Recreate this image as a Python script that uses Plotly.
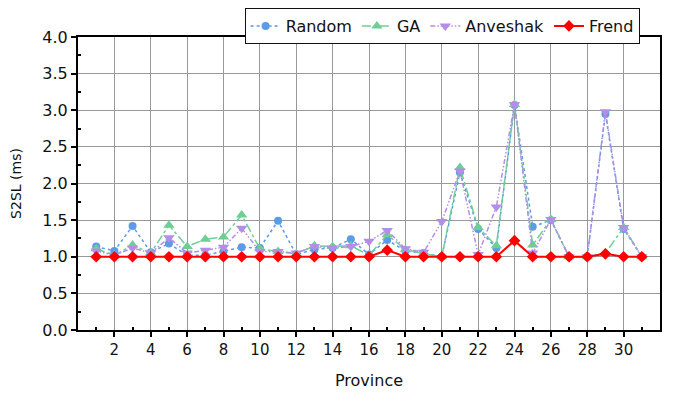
import plotly.graph_objects as go

provinces = list(range(1, 32))
random_vals = [1.14, 1.08, 1.42, 1.06, 1.18, 1.02, 1.02, 1.07, 1.13, 1.12,
               1.49, 1.03, 1.10, 1.12, 1.24, 1.03, 1.23, 1.08, 1.05, 1.00,
               2.15, 1.38, 1.12, 3.07, 1.41, 1.50, 1.00, 1.00, 2.95, 1.38, 1.00]
ga_vals = [1.11, 1.02, 1.16, 1.05, 1.43, 1.14, 1.24, 1.27, 1.57, 1.11,
           1.07, 1.04, 1.15, 1.14, 1.15, 1.02, 1.30, 1.10, 1.04, 1.00,
           2.22, 1.40, 1.15, 3.08, 1.16, 1.51, 1.00, 1.00, 1.05, 1.40, 1.00]
anveshak_vals = [1.08, 1.02, 1.12, 1.05, 1.26, 1.05, 1.09, 1.13, 1.39, 1.07,
                 1.07, 1.05, 1.14, 1.12, 1.14, 1.21, 1.36, 1.11, 1.06, 1.48,
                 2.17, 1.03, 1.68, 3.08, 1.05, 1.51, 1.00, 1.00, 2.98, 1.40, 1.00]
frend_vals = [1.0] * 16 + [1.09] + [1.0] * 6 + [1.22] + [1.0] * 4 + [1.04] + [1.0] * 2

x_ticks = list(range(2, 31, 2))
y_ticks = [0.0, 0.5, 1.0, 1.5, 2.0, 2.5, 3.0, 3.5, 4.0]

FONT = "DejaVu Sans"

fig = go.Figure()
fig.add_trace(go.Scatter(
    x=provinces, y=random_vals, name="Random", mode="lines+markers",
    line=dict(color="#5B9BE8", width=1.5, dash="dot"),
    marker=dict(symbol="circle", size=8, color="#5B9BE8")))
fig.add_trace(go.Scatter(
    x=provinces, y=ga_vals, name="GA", mode="lines+markers",
    line=dict(color="#6ECF95", width=1.5, dash="dashdot"),
    marker=dict(symbol="triangle-up", size=10, color="#6ECF95")))
fig.add_trace(go.Scatter(
    x=provinces, y=anveshak_vals, name="Anveshak", mode="lines+markers",
    line=dict(color="#B48DE8", width=1.5, dash="5px,2px,1.5px,2px,1.5px,2px"),
    marker=dict(symbol="triangle-down", size=10, color="#B48DE8")))
fig.add_trace(go.Scatter(
    x=provinces, y=frend_vals, name="Frend", mode="lines+markers",
    line=dict(color="#FF0000", width=2),
    marker=dict(symbol="diamond", size=9, color="#FF0000")))

fig.update_layout(
    width=669, height=388,
    margin=dict(l=69.5, r=16.5, t=29, b=66, autoexpand=False),
    paper_bgcolor="white", plot_bgcolor="white",
    font=dict(family=FONT, size=15, color="#111111"),
    legend=dict(orientation="h", x=0.965, xanchor="right",
                yref="container", y=1.0, yanchor="top",
                bordercolor="#111111", borderwidth=1, bgcolor="white",
                font=dict(family=FONT, size=16), itemwidth=30,
                tracegroupgap=0),
    showlegend=True,
)
fig.update_xaxes(
    range=[0, 32], tickmode="array", tickvals=x_ticks, ticktext=[str(v) for v in x_ticks],
    showgrid=True, gridcolor="#999999", gridwidth=1.3,
    showline=True, linecolor="#000000", linewidth=2, mirror=True,
    ticks="outside", ticklen=5, tickwidth=1.5, tickcolor="#000000",
    minor=dict(tickvals=list(range(1, 32, 2)), ticks="inside", ticklen=3, tickwidth=1.5,
               tickcolor="#000000", showgrid=False),
    zeroline=False,
    title=dict(text="Province", font=dict(family=FONT, size=16), standoff=17),
    tickfont=dict(family=FONT, size=15),
)
fig.update_yaxes(
    range=[0, 4.0], tickmode="array", tickvals=y_ticks, ticktext=[f"{v:.1f}" for v in y_ticks],
    showgrid=True, gridcolor="#999999", gridwidth=1.3,
    showline=True, linecolor="#000000", linewidth=2, mirror=True,
    ticks="outside", ticklen=5, tickwidth=1.5, tickcolor="#000000",
    minor=dict(tickvals=[0.25 + 0.5 * i for i in range(8)], ticks="inside", ticklen=3,
               tickwidth=1.5, tickcolor="#000000", showgrid=False),
    zeroline=False,
    title=dict(text="S2SL (ms)", font=dict(family=FONT, size=14), standoff=20),
    tickfont=dict(family=FONT, size=16),
)

fig.write_html("out.html")
